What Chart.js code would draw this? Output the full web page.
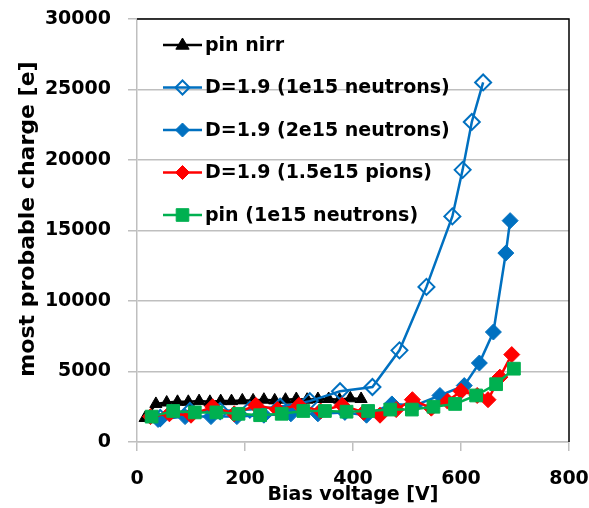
<!DOCTYPE html>
<html lang="en">
<head>
  <meta charset="UTF-8" />
  <title>Most probable charge vs bias voltage</title>
  <script src="https://cdn.jsdelivr.net/npm/chart.js"></script>
  <style>
    body { margin: 0; background: #fff; }
    #wrap { width: 589px; height: 508px; }
  </style>
</head>
<body>
  <div id="wrap"><canvas id="grafico"></canvas></div>
  <script>
    // bias voltage [V] and most probable charge [e] per sample
    const pinNirrV = [15, 35, 55, 75, 95, 115, 135, 155, 175, 195, 215, 235, 255, 275, 295, 315, 335, 355, 375, 395, 415];
    const pinNirrQ = [1700, 2700, 2800, 2850, 2850, 2900, 2850, 2900, 2900, 2950, 2950, 3000, 2950, 3000, 3050, 3000, 3050, 3050, 3000, 3100, 3050];

    const d1e15nV = [43, 98, 154, 209, 265, 320, 376, 436, 486, 536, 584, 603, 620, 641];
    const d1e15nQ = [1700, 2200, 2200, 2300, 2500, 2900, 3600, 3900, 6500, 11000, 16000, 19300, 22700, 25500];

    const d2e15nV = [39, 89, 137, 185, 235, 285, 335, 385, 425, 472, 515, 561, 606, 634, 660, 683, 691];
    const d2e15nQ = [1600, 1800, 1800, 1800, 1900, 2000, 2000, 2100, 1900, 2700, 2600, 3300, 4000, 5600, 7800, 13400, 15700];

    const d15e15pV = [25, 60, 100, 140, 180, 220, 260, 300, 340, 380, 420, 450, 480, 510, 545, 575, 600, 630, 650, 672, 694];
    const d15e15pQ = [1800, 2000, 1900, 2500, 2000, 2600, 2300, 2600, 2200, 2600, 2100, 1900, 2300, 3000, 2400, 2900, 3600, 3300, 3000, 4600, 6200];

    const pin1e15nV = [27, 67, 107, 147, 188, 228, 268, 308, 348, 388, 428, 469, 509, 549, 589, 628, 665, 698];
    const pin1e15nQ = [1800, 2200, 2100, 2100, 2000, 1900, 2000, 2200, 2200, 2150, 2200, 2300, 2300, 2500, 2700, 3300, 4100, 5200];

    const xTicks = [0, 200, 400, 600, 800];
    const yTicks = [0, 5000, 10000, 15000, 20000, 25000, 30000];

    const pares = (vs, qs) => vs.map((v, i) => ({ x: v, y: qs[i] }));

    const fonte = '"DejaVu Sans", sans-serif';
    const azul = '#0070C0';

    // legend drawn inside the plot, line + marker like the original
    function marcador(ctx, estilo, x, y, r) {
      ctx.beginPath();
      if (estilo === 'triangle') {
        ctx.moveTo(x, y - r);
        ctx.lineTo(x + r * 0.95, y + r * 0.6);
        ctx.lineTo(x - r * 0.95, y + r * 0.6);
      } else if (estilo === 'rectRot') {
        ctx.moveTo(x, y - r);
        ctx.lineTo(x + r, y);
        ctx.lineTo(x, y + r);
        ctx.lineTo(x - r, y);
      } else {
        const s = r * 0.7;
        ctx.rect(x - s, y - s, 2 * s, 2 * s);
      }
      ctx.closePath();
    }

    const legendaInterna = {
      id: 'legendaInterna',
      afterDraw(chart) {
        const ctx = chart.ctx;
        const area = chart.chartArea;
        chart.data.datasets.forEach((ds, i) => {
          const y = area.top + 26 + i * 42.5;
          const x0 = area.left + 26, x1 = x0 + 39;
          ctx.save();
          ctx.strokeStyle = ds.borderColor;
          ctx.lineWidth = 2.5;
          ctx.beginPath();
          ctx.moveTo(x0, y);
          ctx.lineTo(x1, y);
          ctx.stroke();
          marcador(ctx, ds.pointStyle, (x0 + x1) / 2, y, ds.pointStyle === 'rect' ? 9 : 7);
          ctx.fillStyle = ds.pointBackgroundColor;
          ctx.fill();
          ctx.strokeStyle = ds.pointBorderColor;
          ctx.lineWidth = ds.pointBorderWidth;
          ctx.stroke();
          ctx.fillStyle = '#000';
          ctx.font = 'bold 19px ' + fonte;
          ctx.textBaseline = 'middle';
          ctx.fillText(ds.label, x1 + 3, y + 1);
          ctx.restore();
        });
      }
    };

    // black frame on top and right of the plot area
    const moldura = {
      id: 'moldura',
      beforeDatasetsDraw(chart) {
        const { ctx, chartArea: a } = chart;
        ctx.save();
        ctx.strokeStyle = '#000';
        ctx.lineWidth = 1.5;
        ctx.beginPath();
        ctx.moveTo(a.left, a.top);
        ctx.lineTo(a.right, a.top);
        ctx.lineTo(a.right, a.bottom);
        ctx.stroke();
        ctx.restore();
      }
    };

    new Chart(document.getElementById('grafico'), {
      type: 'line',
      data: {
        datasets: [
          { label: 'pin nirr', data: pares(pinNirrV, pinNirrQ), borderColor: '#000', backgroundColor: '#000',
            pointStyle: 'triangle', pointRadius: 7, pointBackgroundColor: '#000', pointBorderColor: '#000', pointBorderWidth: 1, order: 5 },
          { label: 'D=1.9 (1e15 neutrons)', data: pares(d1e15nV, d1e15nQ), borderColor: azul, backgroundColor: azul,
            pointStyle: 'rectRot', pointRadius: 8, pointBackgroundColor: 'rgba(255,255,255,0)', pointBorderColor: azul, pointBorderWidth: 2, order: 4 },
          { label: 'D=1.9 (2e15 neutrons)', data: pares(d2e15nV, d2e15nQ), borderColor: azul, backgroundColor: azul,
            pointStyle: 'rectRot', pointRadius: 8, pointBackgroundColor: azul, pointBorderColor: azul, pointBorderWidth: 1, order: 3 },
          { label: 'D=1.9 (1.5e15 pions)', data: pares(d15e15pV, d15e15pQ), borderColor: '#FF0000', backgroundColor: '#FF0000',
            pointStyle: 'rectRot', pointRadius: 8, pointBackgroundColor: '#FF0000', pointBorderColor: '#FF0000', pointBorderWidth: 1, order: 2 },
          { label: 'pin (1e15 neutrons)', data: pares(pin1e15nV, pin1e15nQ), borderColor: '#00B050', backgroundColor: '#00B050',
            pointStyle: 'rect', pointRadius: 9, pointBackgroundColor: '#00B050', pointBorderColor: '#00B050', pointBorderWidth: 1, order: 1 }
        ]
      },
      options: {
        responsive: true,
        maintainAspectRatio: false,
        animation: false,
        elements: { line: { borderWidth: 2.5, tension: 0 } },
        layout: { padding: { top: 19, right: 20, left: 0, bottom: 0 } },
        plugins: { legend: { display: false }, tooltip: { enabled: false } },
        scales: {
          x: {
            type: 'linear', min: 0, max: 800,
            afterFit(scale) { scale.height = 66; scale.paddingLeft = 0; scale.paddingRight = 0; },
            afterBuildTicks(scale) { scale.ticks = xTicks.map(v => ({ value: v })); },
            grid: { drawOnChartArea: false, color: '#BFBFBF', lineWidth: 1.5, tickLength: 9 },
            border: { color: '#BFBFBF', width: 1.5 },
            ticks: { color: '#000', padding: 17, font: { family: fonte, weight: 'bold', size: 19 }, callback: v => String(v) },
            title: { display: true, text: 'Bias voltage [V]', color: '#000',
              font: { family: fonte, weight: 'bold', size: 19 }, padding: { top: 0, bottom: 2 } }
          },
          y: {
            min: 0, max: 30000,
            afterFit(scale) { scale.width = 137; scale.paddingTop = 0; scale.paddingBottom = 0; },
            afterBuildTicks(scale) { scale.ticks = yTicks.map(v => ({ value: v })); },
            grid: { color: '#BFBFBF', lineWidth: 1.5, tickLength: 9 },
            border: { color: '#BFBFBF', width: 1.5 },
            ticks: { color: '#000', padding: 17, font: { family: fonte, weight: 'bold', size: 19 }, callback: v => String(v) },
            title: { display: true, text: '   most probable charge [e]', color: '#000',
              font: { family: fonte, weight: 'bold', size: 22 }, padding: { top: 15, bottom: 0 } }
          }
        }
      },
      plugins: [moldura, legendaInterna]
    });
  </script>
</body>
</html>
